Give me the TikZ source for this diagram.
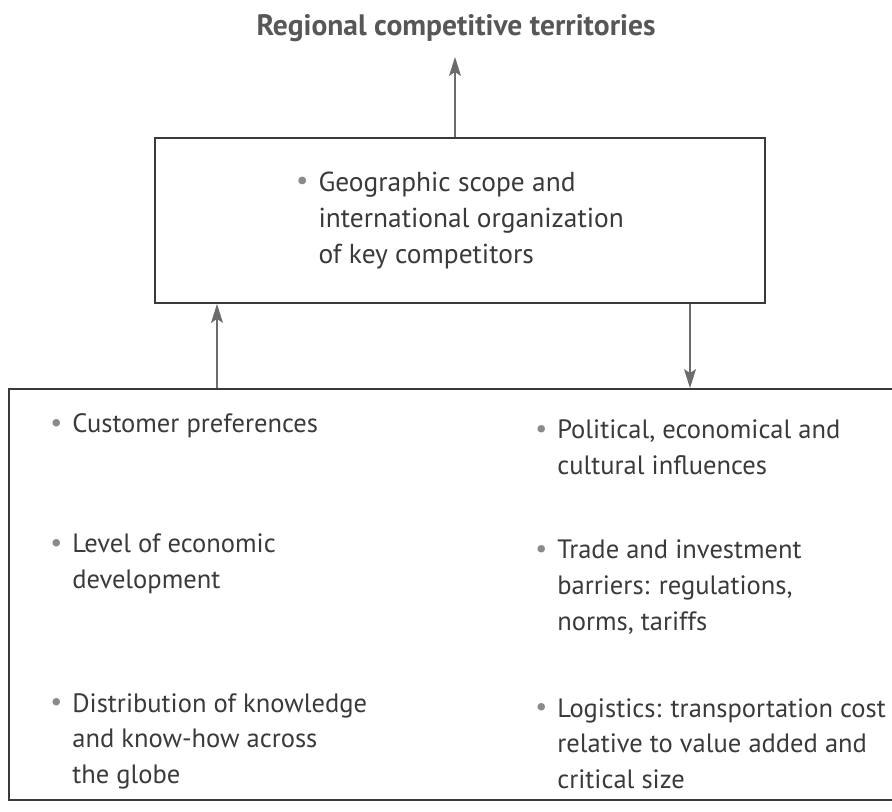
\documentclass[tikz,border=0pt]{standalone}
\usepackage{fontspec}
\setmainfont{PT Sans}
\usetikzlibrary{arrows.meta}
\definecolor{inkgray}{HTML}{3A3A3A}
\definecolor{dotgray}{HTML}{8A8A8A}
\newcommand{\bul}{{\color{dotgray}\raisebox{0.15ex}{\scalebox{1.0}{\textbullet}}}}
\newcommand{\itembox}[1]{\begin{tabular}[t]{@{}l@{\hspace{0.2cm}}l@{}}#1\end{tabular}}
\begin{document}
\begin{tikzpicture}[x=1cm,y=1cm,>={Stealth[length=3.8mm,width=2.4mm,inset=0.8mm]},
  box/.style={draw=inkgray,line width=1.1pt,inner sep=0pt},
  arr/.style={->,draw=gray!85!black,fill=gray!85!black,line width=0.6pt},
  txt/.style={anchor=base west,inner sep=0pt,text=inkgray,font=\fontsize{15.1}{20.4}\selectfont}]
\useasboundingbox (0,0) rectangle (17.84,16.22);
\clip (0,0) rectangle (17.84,16.22);

\node[text=inkgray!85,font=\fontsize{16.8}{18}\selectfont\bfseries] (title) at (9.12,15.66) {Regional competitive territories};
\node[box,minimum width=12.2cm,minimum height=3.3cm,text=inkgray,font=\fontsize{15.6}{20.4}\selectfont] (geo) at (9.2,11.81)
  {\itembox{\bul & Geographic scope and\\ & international organization\\ & of key competitors}};
\node[box,anchor=south west,minimum width=18.3cm,minimum height=8.22cm] (factors) at (0.16,0.2) {};

\node[txt] (pref) at (1.0,7.56) {\itembox{\bul & Customer preferences}};
\node[txt] (level) at (1.0,5.16) {\itembox{\bul & Level of economic\\ & development}};
\node[txt] (know) at (1.0,1.98) {\itembox{\bul & Distribution of knowledge\\ & and know-how across\\ & the globe}};
\node[txt] (polit) at (10.7,7.44) {\itembox{\bul & Political, economical and\\ & cultural influences}};
\node[txt] (trade) at (10.7,5.04) {\itembox{\bul & Trade and investment\\ & barriers: regulations,\\ & norms, tariffs}};
\node[txt] (logis) at (10.7,1.88) {\itembox{\bul & Logistics: transportation cost\\ & relative to value added and\\ & critical size}};

\coordinate (tip) at (9.1,15.08);
\coordinate (up) at (4.34,0);
\coordinate (down) at (13.8,0);
\draw[arr] (geo.north -| tip) -- (tip);
\draw[arr] (factors.north -| up) -- (geo.south -| up);
\draw[arr] (geo.south -| down) -- (factors.north -| down);
\end{tikzpicture}
\end{document}
